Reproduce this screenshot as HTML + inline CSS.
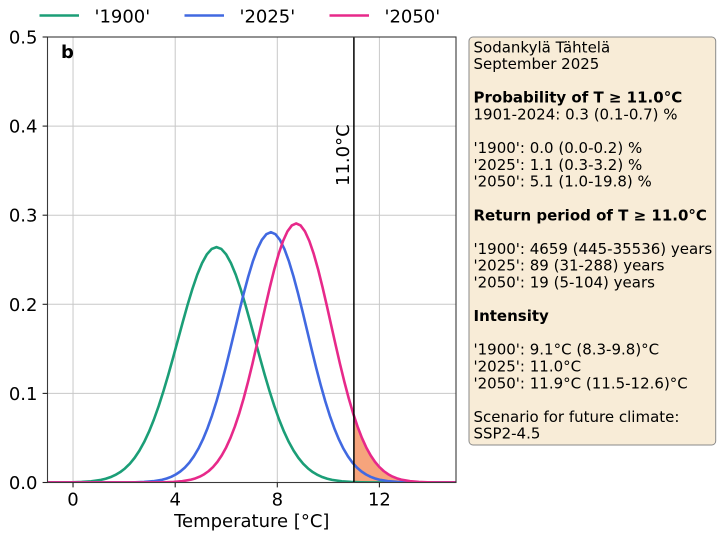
<!DOCTYPE html>
<html>
<head>
<meta charset="utf-8">
<style>
  html, body { margin: 0; padding: 0; background: #ffffff; }
  svg { display: block; }
  text { font-family: "DejaVu Sans", "Liberation Sans", sans-serif; fill: #000; }
</style>
</head>
<body>
<svg width="720" height="535" viewBox="0 0 720 535" xmlns="http://www.w3.org/2000/svg">
  <defs>
    <clipPath id="ax">
      <rect x="47.5" y="37" width="408.5" height="445.5"/>
    </clipPath>
  </defs>

  <!-- Legend -->
  <line x1="39.5" y1="15.5" x2="79" y2="15.5" stroke="#1b9e77" stroke-width="2.6"/>
  <text x="94.5" y="22.5" font-size="18">'1900'</text>
  <line x1="184.5" y1="15.5" x2="224" y2="15.5" stroke="#4169e1" stroke-width="2.6"/>
  <text x="239.5" y="22.5" font-size="18">'2025'</text>
  <line x1="329.5" y1="15.5" x2="369" y2="15.5" stroke="#e7298a" stroke-width="2.6"/>
  <text x="384.5" y="22.5" font-size="18">'2050'</text>

  <!-- Grid -->
  <g stroke="#c8c8c8" stroke-width="1">
    <line x1="73.03" y1="37" x2="73.03" y2="482.5"/>
    <line x1="175.2" y1="37" x2="175.2" y2="482.5"/>
    <line x1="277.3" y1="37" x2="277.3" y2="482.5"/>
    <line x1="379.4" y1="37" x2="379.4" y2="482.5"/>
    <line x1="47.5" y1="393.4" x2="456" y2="393.4"/>
    <line x1="47.5" y1="304.3" x2="456" y2="304.3"/>
    <line x1="47.5" y1="215.2" x2="456" y2="215.2"/>
    <line x1="47.5" y1="126.1" x2="456" y2="126.1"/>
  </g>

  <g clip-path="url(#ax)">
    <!-- Fill under 2050 curve for T >= 11 -->
    <g transform="matrix(0.3503,0,0,0.2591,296.2,482.5)">
      <path fill="#f6a47c" stroke="none" d="M164.7,0 L164.7,-257.6 L175,-216.3 L187.5,-172.4 L200,-135.3 L212.5,-104.6 L225,-79.6 L237.5,-59.6 L250,-43.9 L262.5,-31.9 L275,-22.8 L287.5,-16.0 L300,-11.1 L325,-5.1 L350,-2.2 L375,-0.9 L400,-0.3 L800,0 Z"/>
    </g>

    <!-- 1900 -->
    <g transform="matrix(0.3855,0,0,0.2354,216.5,482.5)">
      <path fill="none" stroke="#1b9e77" stroke-width="2.6" stroke-linejoin="round" vector-effect="non-scaling-stroke" d="M-800,0 L-400,-0.3 L-375,-0.9 L-350,-2.2 L-325,-5.1 L-300,-11.1 L-287.5,-16.0 L-275,-22.8 L-262.5,-31.9 L-250,-43.9 L-237.5,-59.6 L-225,-79.6 L-212.5,-104.6 L-200,-135.3 L-187.5,-172.4 L-175,-216.3 L-162.5,-267.1 L-150,-324.7 L-137.5,-388.6 L-125,-457.8 L-112.5,-531.1 L-100,-606.5 L-87.5,-681.9 L-75,-754.8 L-62.5,-822.6 L-50,-882.5 L-37.5,-932.1 L-25,-969.2 L-12.5,-992.2 L0,-1000 L12.5,-992.2 L25,-969.2 L37.5,-932.1 L50,-882.5 L62.5,-822.6 L75,-754.8 L87.5,-681.9 L100,-606.5 L112.5,-531.1 L125,-457.8 L137.5,-388.6 L150,-324.7 L162.5,-267.1 L175,-216.3 L187.5,-172.4 L200,-135.3 L212.5,-104.6 L225,-79.6 L237.5,-59.6 L250,-43.9 L262.5,-31.9 L275,-22.8 L287.5,-16.0 L300,-11.1 L325,-5.1 L350,-2.2 L375,-0.9 L400,-0.3 L800,0"/>
    </g>

    <!-- 2025 -->
    <g transform="matrix(0.3625,0,0,0.2503,270.9,482.5)">
      <path fill="none" stroke="#4169e1" stroke-width="2.6" stroke-linejoin="round" vector-effect="non-scaling-stroke" d="M-800,0 L-400,-0.3 L-375,-0.9 L-350,-2.2 L-325,-5.1 L-300,-11.1 L-287.5,-16.0 L-275,-22.8 L-262.5,-31.9 L-250,-43.9 L-237.5,-59.6 L-225,-79.6 L-212.5,-104.6 L-200,-135.3 L-187.5,-172.4 L-175,-216.3 L-162.5,-267.1 L-150,-324.7 L-137.5,-388.6 L-125,-457.8 L-112.5,-531.1 L-100,-606.5 L-87.5,-681.9 L-75,-754.8 L-62.5,-822.6 L-50,-882.5 L-37.5,-932.1 L-25,-969.2 L-12.5,-992.2 L0,-1000 L12.5,-992.2 L25,-969.2 L37.5,-932.1 L50,-882.5 L62.5,-822.6 L75,-754.8 L87.5,-681.9 L100,-606.5 L112.5,-531.1 L125,-457.8 L137.5,-388.6 L150,-324.7 L162.5,-267.1 L175,-216.3 L187.5,-172.4 L200,-135.3 L212.5,-104.6 L225,-79.6 L237.5,-59.6 L250,-43.9 L262.5,-31.9 L275,-22.8 L287.5,-16.0 L300,-11.1 L325,-5.1 L350,-2.2 L375,-0.9 L400,-0.3 L800,0"/>
    </g>

    <!-- 2050 -->
    <g transform="matrix(0.3503,0,0,0.2591,296.2,482.5)">
      <path fill="none" stroke="#e7298a" stroke-width="2.6" stroke-linejoin="round" vector-effect="non-scaling-stroke" d="M-800,0 L-400,-0.3 L-375,-0.9 L-350,-2.2 L-325,-5.1 L-300,-11.1 L-287.5,-16.0 L-275,-22.8 L-262.5,-31.9 L-250,-43.9 L-237.5,-59.6 L-225,-79.6 L-212.5,-104.6 L-200,-135.3 L-187.5,-172.4 L-175,-216.3 L-162.5,-267.1 L-150,-324.7 L-137.5,-388.6 L-125,-457.8 L-112.5,-531.1 L-100,-606.5 L-87.5,-681.9 L-75,-754.8 L-62.5,-822.6 L-50,-882.5 L-37.5,-932.1 L-25,-969.2 L-12.5,-992.2 L0,-1000 L12.5,-992.2 L25,-969.2 L37.5,-932.1 L50,-882.5 L62.5,-822.6 L75,-754.8 L87.5,-681.9 L100,-606.5 L112.5,-531.1 L125,-457.8 L137.5,-388.6 L150,-324.7 L162.5,-267.1 L175,-216.3 L187.5,-172.4 L200,-135.3 L212.5,-104.6 L225,-79.6 L237.5,-59.6 L250,-43.9 L262.5,-31.9 L275,-22.8 L287.5,-16.0 L300,-11.1 L325,-5.1 L350,-2.2 L375,-0.9 L400,-0.3 L800,0"/>
    </g>
  </g>

  <!-- Threshold line -->
  <line x1="353.9" y1="37" x2="353.9" y2="482.5" stroke="#000" stroke-width="1.5"/>
  <text transform="translate(349,186) rotate(-90)" x="0" y="0" font-size="18">11.0°C</text>

  <!-- Spines -->
  <rect x="47.5" y="37" width="408.5" height="445.5" fill="none" stroke="#3a3a3a" stroke-width="1.1"/>

  <!-- Ticks -->
  <g stroke="#222" stroke-width="1.1">
    <line x1="42.6" y1="37" x2="47.5" y2="37"/>
    <line x1="42.6" y1="126.1" x2="47.5" y2="126.1"/>
    <line x1="42.6" y1="215.2" x2="47.5" y2="215.2"/>
    <line x1="42.6" y1="304.3" x2="47.5" y2="304.3"/>
    <line x1="42.6" y1="393.4" x2="47.5" y2="393.4"/>
    <line x1="42.6" y1="482.5" x2="47.5" y2="482.5"/>
    <line x1="73.03" y1="482.5" x2="73.03" y2="487.4"/>
    <line x1="175.2" y1="482.5" x2="175.2" y2="487.4"/>
    <line x1="277.3" y1="482.5" x2="277.3" y2="487.4"/>
    <line x1="379.4" y1="482.5" x2="379.4" y2="487.4"/>
  </g>

  <!-- Y tick labels -->
  <g font-size="18" text-anchor="end">
    <text x="37.5" y="43.5">0.5</text>
    <text x="37.5" y="132.6">0.4</text>
    <text x="37.5" y="221.7">0.3</text>
    <text x="37.5" y="310.8">0.2</text>
    <text x="37.5" y="399.9">0.1</text>
    <text x="37.5" y="489">0.0</text>
  </g>

  <!-- X tick labels -->
  <g font-size="18" text-anchor="middle">
    <text x="73.03" y="505.5">0</text>
    <text x="175.2" y="505.5">4</text>
    <text x="277.3" y="505.5">8</text>
    <text x="379.4" y="505.5">12</text>
  </g>
  <text x="251.75" y="527" font-size="18" text-anchor="middle">Temperature [°C]</text>

  <!-- Panel letter -->
  <text x="61" y="58" font-size="18" font-weight="bold">b</text>

  <!-- Info box -->
  <rect x="469" y="37" width="246.7" height="408" rx="4" ry="4" fill="#f8ecd7" stroke="#8a8a8a" stroke-width="1"/>
  <g font-size="15">
    <text x="473.5" y="52.3">Sodankylä Tähtelä</text>
    <text x="473.5" y="69.1">September 2025</text>
    <text x="473.5" y="102.7" font-weight="bold">Probability of T ≥ 11.0°C</text>
    <text x="473.5" y="119.5">1901-2024: 0.3 (0.1-0.7) %</text>
    <text x="473.5" y="153.1">'1900': 0.0 (0.0-0.2) %</text>
    <text x="473.5" y="169.9">'2025': 1.1 (0.3-3.2) %</text>
    <text x="473.5" y="186.7">'2050': 5.1 (1.0-19.8) %</text>
    <text x="473.5" y="220.3" font-weight="bold">Return period of T ≥ 11.0°C</text>
    <text x="473.5" y="253.9">'1900': 4659 (445-35536) years</text>
    <text x="473.5" y="270.7">'2025': 89 (31-288) years</text>
    <text x="473.5" y="287.5">'2050': 19 (5-104) years</text>
    <text x="473.5" y="321.1" font-weight="bold">Intensity</text>
    <text x="473.5" y="354.7">'1900': 9.1°C (8.3-9.8)°C</text>
    <text x="473.5" y="371.5">'2025': 11.0°C</text>
    <text x="473.5" y="388.3">'2050': 11.9°C (11.5-12.6)°C</text>
    <text x="473.5" y="421.9">Scenario for future climate:</text>
    <text x="473.5" y="438.7">SSP2-4.5</text>
  </g>
</svg>
</body>
</html>
